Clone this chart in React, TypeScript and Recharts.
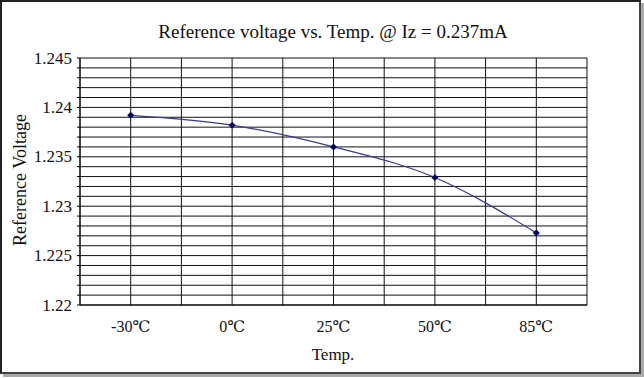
import { LineChart, Line, XAxis, YAxis, CartesianGrid } from 'recharts';

// temperature points and measured reference voltage (V)
const categories = ['-30℃', '0℃', '25℃', '50℃', '85℃'];
const voltages = [1.2392, 1.2382, 1.236, 1.2329, 1.2273];

const yMajorTicks = [1.22, 1.225, 1.23, 1.235, 1.24, 1.245];
const yLabels = ['1.22', '1.225', '1.23', '1.235', '1.24', '1.245'];

const title = 'Reference voltage vs. Temp. @ Iz = 0.237mA';
const xTitle = 'Temp.';
const yTitle = 'Reference Voltage';

const FONT = '"Liberation Serif", "DejaVu Serif", "Noto Sans CJK TC", serif';

const data = categories.map((c, i) => ({ idx: i, name: c, v: voltages[i] }));

// grid every 0.001 V, every half category
const yGridTicks: number[] = [];
for (let k = 0; k <= 25; k++) yGridTicks.push(Math.round((1.22 + k * 0.001) * 1000) / 1000);
const xGridTicks: number[] = [];
for (let k = 0; k <= 10; k++) xGridTicks.push(-0.5 + k * 0.5);

const Diamond = (props: any) => {
  const { cx, cy } = props;
  if (cx == null || cy == null) return null;
  const r = 3.5;
  return <path d={`M${cx},${cy - r}L${cx + r},${cy}L${cx},${cy + r}L${cx - r},${cy}Z`} fill="#000066" />;
};

const XTick = (props: any) => {
  const { x, y, payload } = props;
  const v = payload.value;
  if (!Number.isInteger(v)) return null;
  return (
    <text x={x} y={y + 13} textAnchor="middle" dominantBaseline="central" fontSize={16} fontFamily={FONT} fill="#111">
      {categories[v]}
    </text>
  );
};

const YTick = (props: any) => {
  const { x, y, payload } = props;
  const i = yMajorTicks.findIndex(t => Math.abs(t - payload.value) < 1e-6);
  if (i < 0) return null;
  return (
    <text x={x} y={y} textAnchor="end" dominantBaseline="central" fontSize={17} fontFamily={FONT} fill="#111">
      {yLabels[i]}
    </text>
  );
};

export default function App() {
  return (
    <div style={{ position: 'absolute', left: 0, top: 0, width: 644, height: 378, background: '#fff' }}>
      <div
        style={{
          position: 'absolute', left: 0, top: 0, width: 637, height: 370,
          borderLeft: '2px solid #222', borderTop: '2px solid #222',
          borderRight: '2px solid #444', borderBottom: '2px solid #444',
          boxShadow: '3px 3px 0 #aaa',
        }}
      />
      <LineChart
        width={644}
        height={378}
        data={data}
        margin={{ top: 58, right: 57, bottom: 43, left: 20 }}
        style={{ position: 'absolute', left: 0, top: 0 }}
      >
        <CartesianGrid stroke="#111" strokeWidth={1} />
        <XAxis
          dataKey="idx"
          type="number"
          domain={[-0.5, 4.5]}
          ticks={xGridTicks}
          interval={0}
          height={30}
          tickLine={false}
          axisLine={{ stroke: '#000' }}
          tick={<XTick />}
        />
        <YAxis
          type="number"
          domain={[1.22, 1.245]}
          ticks={yGridTicks}
          interval={0}
          width={60}
          tickSize={3}
          tickMargin={5}
          axisLine={{ stroke: '#000' }}
          tickLine={{ stroke: '#000' }}
          tick={<YTick />}
        />
        <Line
          type="monotone"
          dataKey="v"
          stroke="#3a3a8c"
          strokeWidth={1.2}
          dot={<Diamond />}
          activeDot={false}
          isAnimationActive={false}
        />
      </LineChart>
      <svg width={644} height={378} style={{ position: 'absolute', left: 0, top: 0, pointerEvents: 'none' }}>
        <text x={333} y={31} textAnchor="middle" dominantBaseline="central" fontSize={19} fontFamily={FONT} fill="#111">
          {title}
        </text>
        <text x={333} y={354} textAnchor="middle" dominantBaseline="central" fontSize={17} fontFamily={FONT} fill="#111">
          {xTitle}
        </text>
        <text
          x={20}
          y={180}
          textAnchor="middle"
          dominantBaseline="central"
          fontSize={18}
          fontFamily={FONT}
          fill="#111"
          transform="rotate(-90 20 180)"
        >
          {yTitle}
        </text>
      </svg>
    </div>
  );
}
